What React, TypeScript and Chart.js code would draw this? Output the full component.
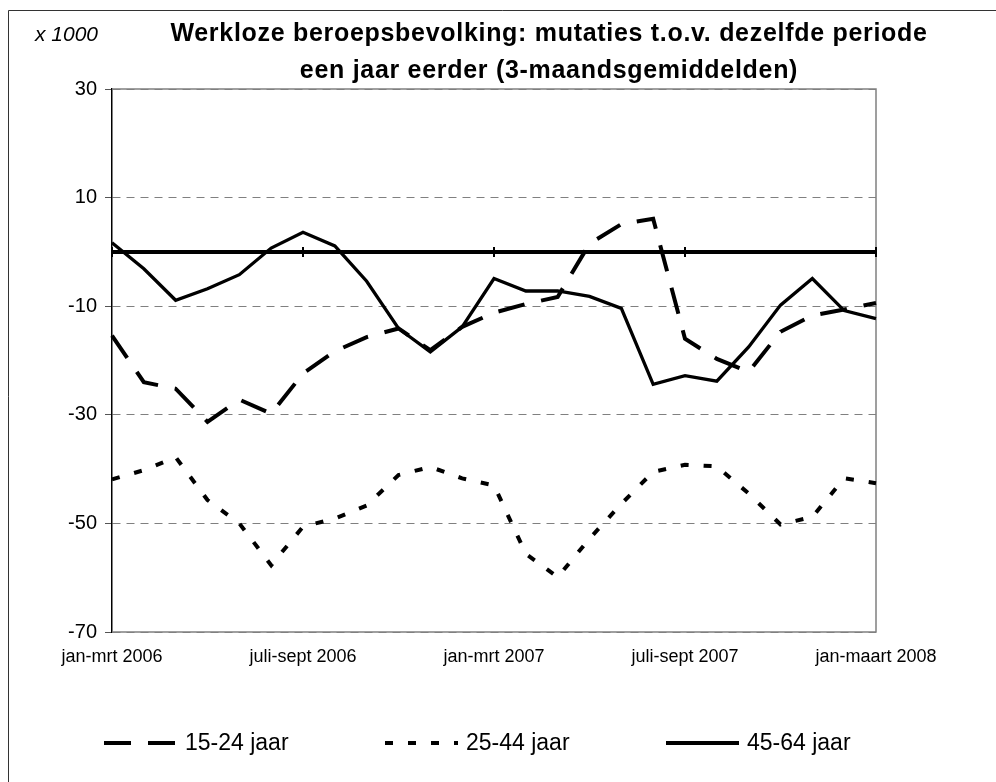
import React, { useEffect, useRef } from 'react';
import { Chart, registerables } from 'chart.js';

Chart.register(...registerables);

const categories = [
  'jan-mrt 2006', 'feb-apr 2006', 'mrt-mei 2006', 'apr-juni 2006', 'mei-juli 2006', 'juni-aug 2006',
  'juli-sept 2006', 'aug-okt 2006', 'sept-nov 2006', 'okt-dec 2006', 'nov 2006-jan 2007', 'dec 2006-feb 2007',
  'jan-mrt 2007', 'feb-apr 2007', 'mrt-mei 2007', 'apr-juni 2007', 'mei-juli 2007', 'juni-aug 2007',
  'juli-sept 2007', 'aug-okt 2007', 'sept-nov 2007', 'okt-dec 2007', 'nov 2007-jan 2008', 'dec 2007-feb 2008',
  'jan-maart 2008',
];
const xTickLabels = ['jan-mrt 2006', 'juli-sept 2006', 'jan-mrt 2007', 'juli-sept 2007', 'jan-maart 2008'];
const yTicks = [30, 10, -10, -30, -50, -70];

const seriesLabels = ['15-24 jaar', '25-44 jaar', '45-64 jaar'];
const jaar15_24 = [
  -15.4, -24.0, -25.2, -31.3, -27.2, -29.8, -22.4, -18.3, -15.7, -14.1, -18.1, -13.8,
  -11.2, -9.6, -8.3, 1.5, 5.1, 6.1, -16.0, -19.7, -22.1, -14.7, -11.7, -10.6, -9.4,
];
const jaar25_44 = [
  -41.9, -40.2, -37.8, -45.7, -50.0, -57.7, -50.6, -49.1, -46.7, -41.1, -39.6, -41.7,
  -43.0, -55.6, -59.9, -52.8, -46.4, -40.5, -39.2, -39.5, -44.5, -50.2, -48.8, -41.7, -42.6,
];
const jaar45_64 = [
  1.7, -3.1, -8.9, -6.8, -4.2, 0.7, 3.6, 1.1, -5.4, -14.1, -18.4, -13.8,
  -4.9, -7.2, -7.2, -8.2, -10.4, -24.4, -22.8, -23.8, -17.5, -9.8, -4.9, -10.8, -12.3,
];

const titleLines = [
  'Werkloze beroepsbevolking: mutaties t.o.v. dezelfde periode',
  'een jaar eerder (3-maandsgemiddelden)',
];
const unitLabel = 'x 1000';

const FONT = "'Liberation Sans', Arial, Helvetica, sans-serif";
const seriesData = [jaar15_24, jaar25_44, jaar45_64];
const seriesDash = [[27, 17], [8, 15], []];
const seriesWidth = [4, 4, 3.3];
const seriesOrder = [2, 1, 0];

const decorPlugin = {
  id: 'decor',
  beforeDraw(chart: any) {
    const ctx = chart.ctx;
    ctx.save();
    ctx.fillStyle = '#fff';
    ctx.fillRect(0, 0, chart.width, chart.height);
    ctx.strokeStyle = '#333';
    ctx.lineWidth = 1;
    ctx.beginPath();
    ctx.moveTo(8.5, chart.height);
    ctx.lineTo(8.5, 10.5);
    ctx.lineTo(chart.width, 10.5);
    ctx.stroke();
    ctx.restore();
  },
  beforeDatasetsDraw(chart: any) {
    const { ctx, chartArea: a, scales } = chart;
    const xs = scales.x;
    const ys = scales.y;
    ctx.save();
    ctx.setLineDash([]);
    ctx.strokeStyle = '#808080';
    ctx.lineWidth = 1.5;
    ctx.beginPath();
    ctx.moveTo(a.left, a.top);
    ctx.lineTo(a.right, a.top);
    ctx.lineTo(a.right, a.bottom);
    ctx.lineTo(a.left, a.bottom);
    ctx.stroke();
    const y0 = ys.getPixelForValue(0);
    ctx.strokeStyle = '#000';
    ctx.lineWidth = 4;
    ctx.beginPath();
    ctx.moveTo(a.left, y0);
    ctx.lineTo(a.right, y0);
    ctx.stroke();
    ctx.lineWidth = 2;
    categories.forEach((c, i) => {
      if (xTickLabels.includes(c)) {
        const px = xs.getPixelForValue(i);
        ctx.beginPath();
        ctx.moveTo(px, y0 - 5);
        ctx.lineTo(px, y0 + 5);
        ctx.stroke();
      }
    });
    ctx.restore();
  },
  afterDraw(chart: any) {
    const { ctx, chartArea: a } = chart;
    ctx.save();
    ctx.fillStyle = '#000';
    // title
    const cx = (a.left + a.right) / 2 + 55;
    ctx.font = `bold 25px ${FONT}`;
    ctx.textAlign = 'center';
    ctx.textBaseline = 'alphabetic';
    (ctx as any).letterSpacing = '0.7px';
    ctx.fillText(titleLines[0], cx, a.top - 48);
    ctx.fillText(titleLines[1], cx, a.top - 11);
    (ctx as any).letterSpacing = '0px';
    // unit
    ctx.font = `italic 21px ${FONT}`;
    ctx.textAlign = 'left';
    ctx.fillText(unitLabel, a.left - 77, a.top - 48);
    // legend
    const ly = a.bottom + 111;
    ctx.font = `23px ${FONT}`;
    ctx.textBaseline = 'middle';
    seriesLabels.forEach((lab, i) => {
      const sx = a.left - 8 + i * 281;
      ctx.strokeStyle = '#000';
      ctx.lineWidth = 4;
      ctx.lineCap = 'butt';
      ctx.setLineDash(seriesDash[i]);
      ctx.beginPath();
      ctx.moveTo(sx, ly);
      ctx.lineTo(sx + 73, ly);
      ctx.stroke();
      ctx.setLineDash([]);
      ctx.fillText(lab, sx + 81, ly + 1);
    });
    ctx.restore();
  },
};

export default function App() {
  const ref = useRef<HTMLCanvasElement>(null);
  useEffect(() => {
    const chart = new Chart(ref.current as HTMLCanvasElement, {
      type: 'line',
      data: {
        labels: categories,
        datasets: seriesLabels.map((label, i) => ({
          label,
          data: seriesData[i],
          borderColor: '#000',
          backgroundColor: '#000',
          borderWidth: seriesWidth[i],
          borderDash: seriesDash[i],
          borderCapStyle: 'butt',
          borderJoinStyle: 'miter',
          pointRadius: 0,
          pointHoverRadius: 0,
          tension: 0,
          fill: false,
          order: seriesOrder[i],
        })),
      },
      options: {
        responsive: false,
        maintainAspectRatio: false,
        devicePixelRatio: 1,
        animation: false,
        events: [],
        layout: { padding: { left: 0, right: 120, top: 89, bottom: 110 } },
        plugins: {
          legend: { display: false },
          title: { display: false },
          tooltip: { enabled: false },
        },
        scales: {
          x: {
            type: 'category',
            offset: false,
            grid: { display: false, drawTicks: false },
            border: { display: false },
            ticks: {
              autoSkip: false,
              maxRotation: 0,
              minRotation: 0,
              padding: 14,
              color: '#000',
              font: { family: FONT, size: 18 },
              callback: (_v: any, i: number) => (xTickLabels.includes(categories[i]) ? categories[i] : ''),
            },
            afterFit: (s: any) => { s.height = 40; },
          },
          y: {
            min: -70,
            max: 30,
            afterBuildTicks: (s: any) => { s.ticks = yTicks.map((v) => ({ value: v })); },
            afterFit: (s: any) => { s.width = 112; },
            grid: {
              color: '#808080',
              lineWidth: 1,
              tickLength: 7,
              tickColor: '#555',
              tickWidth: 1,
              tickBorderDash: [],
            },
            border: { display: true, color: '#000', width: 1.5, dash: [8, 6] },
            ticks: {
              padding: 8,
              color: '#000',
              font: { family: FONT, size: 20 },
            },
          },
        },
      },
      plugins: [decorPlugin],
    } as any);
    return () => chart.destroy();
  }, []);
  return (
    <div style={{ position: 'absolute', left: 0, top: 0, width: 996, height: 782, overflow: 'hidden', background: '#fff' }}>
      <canvas ref={ref} width={996} height={782} style={{ display: 'block', width: 996, height: 782 }} />
    </div>
  );
}
